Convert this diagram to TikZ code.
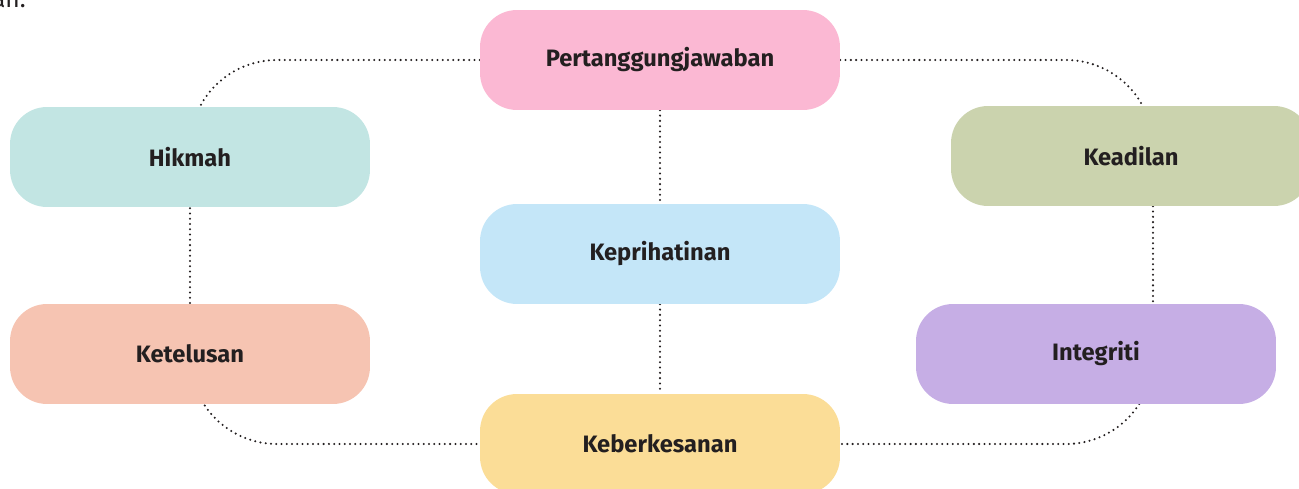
\documentclass[tikz,border=0pt]{standalone}
\usepackage{fontspec}
\setmainfont{Fira Sans}
\usetikzlibrary{backgrounds}
\definecolor{ink}{HTML}{231F20}
\definecolor{pinkbox}{HTML}{FBB8D3}
\definecolor{tealbox}{HTML}{C2E5E3}
\definecolor{olivebox}{HTML}{CBD3AE}
\definecolor{bluebox}{HTML}{C4E6F8}
\definecolor{salmonbox}{HTML}{F6C4B2}
\definecolor{lilacbox}{HTML}{C6AEE5}
\definecolor{yellowbox}{HTML}{FBDD97}

\begin{document}
\begin{tikzpicture}[x=0.02cm, y=-0.02cm,
		value/.style={minimum width=7.2cm, minimum height=2cm, rounded corners=0.74cm, text=ink, font=\bfseries\fontsize{13.5}{16}\selectfont},
		link/.style={draw=ink, line width=1.3pt, line cap=round, dash pattern=on 0pt off 3pt}]
		\useasboundingbox (0,0) rectangle (1299,489);

		\draw (32,8) node[anchor=base east, text=ink, font=\fontsize{14}{16}\selectfont] (tail) {an.};

		\draw (660,60) node[value, fill=pinkbox] (tanggung) {Pertanggungjawaban};
		\draw (190,157) node[value, fill=tealbox] (hikmah) {Hikmah};
		\draw (1131,156) node[value, fill=olivebox] (adil) {Keadilan};
		\draw (660,254) node[value, fill=bluebox] (prihatin) {Keprihatinan};
		\draw (190,354) node[value, fill=salmonbox] (telus) {Ketelusan};
		\draw (1096,354) node[value, fill=lilacbox] (integ) {Integriti};
		\draw (660,444) node[value, fill=yellowbox] (kesan) {Keberkesanan};

		\coordinate (leftline) at (190,250);
		\coordinate (rightline) at (1153,250);

		\begin{scope}[on background layer]
			\draw [link, rounded corners=1.74cm] (tanggung.west) -| (leftline) |- (kesan.west);
			\draw [link, rounded corners=1.74cm] (tanggung.east) -| (rightline) |- (kesan.east);
			\draw [link] (tanggung) -- (prihatin) -- (kesan);
		\end{scope}
	\end{tikzpicture}
\end{document}
